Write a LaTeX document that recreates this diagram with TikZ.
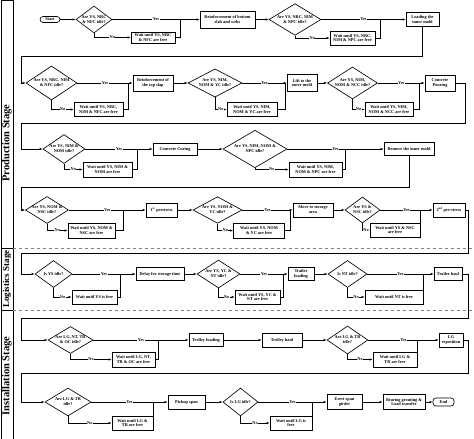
\documentclass[tikz,border=0pt]{standalone}
\usepackage{fontspec}
\setmainfont{Liberation Serif}
\usetikzlibrary{shapes.geometric,arrows.meta}
\newcommand{\tinytext}{\fontsize{4.3}{4.9}\selectfont\bfseries}
\begin{document}
\begin{tikzpicture}[x=1pt,y=-1pt,
    line/.style={draw,line width=0.55pt},
    flow/.style={line,-{Latex[length=3pt,width=2.2pt]}},
    lbl/.style={fill=white,inner sep=0.4pt,font=\tinytext},
    decision/.style={diamond,draw,line width=0.65pt,align=center,inner sep=-3pt,font=\tinytext},
    task/.style={rectangle,draw,line width=0.65pt,align=center,inner sep=0.5pt,font=\tinytext},
    terminal/.style={rectangle,rounded corners=3pt,draw,line width=0.65pt,inner sep=0.5pt,font=\tinytext},
    stage/.style={rotate=90,font=\fontsize{10.5}{11}\selectfont\bfseries}]
      \useasboundingbox (0,0) rectangle (474,439);

      % stage column
      \draw[line width=0.8pt] (1,0) rectangle (13,439);
      \draw[line width=0.8pt] (1,248) -- (13,248);
      \draw[line width=0.8pt] (1,310) -- (13,310);
      \draw[dashed,gray,line width=0.45pt] (13,248) -- (474,248);
      \draw[dashed,gray,line width=0.45pt] (13,310) -- (474,310);
      \node[stage] (s1) at (7,143) {Production Stage};
      \node[stage,font=\fontsize{9}{10}\selectfont\bfseries] (s2) at (7,279) {Logistics Stage};
      \node[stage] (s3) at (7,376) {Installation Stage};

      % production, row 1
      \node[terminal,minimum width=20pt,minimum height=6pt] (st) at (50,19.5) {Start};
      \node[decision,minimum width=36pt,minimum height=27pt] (d1) at (94,19.5) {Are YS, NRC\\\& NFC idle?};
      \node[task,minimum width=44pt,minimum height=11pt] (w1) at (153,37.5) {Wait until YS, NRC\\\& NFC are free};
      \node[task,minimum width=55pt,minimum height=17pt] (t1) at (227.5,19.5) {Reinforcement of bottom\\slab and webs};
      \node[decision,minimum width=52pt,minimum height=28pt] (d2) at (295,19.5) {Are YS, NRC, NIM\\\& NPC idle?};
      \node[task,minimum width=45pt,minimum height=14pt] (w2) at (352.5,38) {Wait until YS, NRC,\\NIM \& NPC are free};
      \node[task,minimum width=33pt,minimum height=14pt] (t2) at (422.5,19.5) {Loading the\\inner mold};
      \coordinate (j1) at (180,19.5);
      \coordinate (j2) at (380,19.5);

      % production, row 2
      \node[decision,minimum width=51pt,minimum height=34pt] (d3) at (51.5,83) {Are YS, NRC, NIM\\\& NFC idle?};
      \node[task,minimum width=49pt,minimum height=14pt] (w3) at (98.5,109.5) {Wait until YS, NRC,\\NIM \& NFC are free};
      \node[task,minimum width=40pt,minimum height=16pt] (t3) at (153,83) {Reinforcement of\\the top slap};
      \node[decision,minimum width=54pt,minimum height=28pt] (d4) at (215,83) {Are YS, NIM,\\NOM \& YC idle?};
      \node[task,minimum width=50pt,minimum height=14pt] (w4) at (252,109.5) {Wait until YS, NIM,\\NOM \& YC are free};
      \node[task,minimum width=30pt,minimum height=17pt] (t4) at (302,83) {Lift to the\\outer mold};
      \node[decision,minimum width=50pt,minimum height=32pt] (d5) at (352.5,83) {Are YS, NIM,\\NOM \& NCC idle?};
      \node[task,minimum width=48pt,minimum height=14pt] (w5) at (389,109.5) {Wait until YS, NIM,\\NOM \& NCC are free};
      \node[task,minimum width=30pt,minimum height=16pt] (t5) at (440,83) {Concrete\\Pouring};
      \coordinate (j3) at (128,83);
      \coordinate (j4) at (285,83);
      \coordinate (j5) at (419,83);
      \coordinate (e1) at (21,56);
      \coordinate (e2) at (465,123);
      \coordinate (r2) at (21,123);

      % production, row 3
      \node[decision,minimum width=42pt,minimum height=29pt] (d6) at (64,149) {Are YS, NIM \&\\NOM idle?};
      \node[task,minimum width=49pt,minimum height=15pt] (w6) at (107.5,169.5) {Wait until YS, NIM \&\\NOM are free};
      \node[task,minimum width=44pt,minimum height=12pt] (t6) at (175,149) {Concrete Curing};
      \node[decision,minimum width=64pt,minimum height=32pt] (d7) at (255,149) {Are YS, NIM, NOM \&\\NPC idle?};
      \node[task,minimum width=53pt,minimum height=15pt] (w7) at (315.5,169.5) {Wait until YS, NIM,\\NOM \& NPC are free};
      \node[task,minimum width=50pt,minimum height=13pt] (t7) at (409,149) {Remove the inner mold};
      \coordinate (j6) at (137,149);
      \coordinate (j7) at (345,149);
      \coordinate (e3) at (21,187);

      % production, row 4
      \node[decision,minimum width=43pt,minimum height=27pt] (d8) at (47,210) {Are YS, NOM \&\\NSC idle?};
      \node[task,minimum width=47pt,minimum height=15pt] (w8) at (91.5,230.5) {Wait until YS, NOM \&\\NSC are free};
      \node[task,minimum width=31pt,minimum height=14pt] (t8) at (161.5,210) {1\textsuperscript{st} prestress};
      \node[decision,minimum width=49pt,minimum height=26pt] (d9) at (217.5,210) {Are YS, NOM \&\\YC idle?};
      \node[task,minimum width=51pt,minimum height=15pt] (w9) at (259,230.5) {Wait until YS, NOM\\\& YC are free};
      \node[task,minimum width=40pt,minimum height=14pt] (t9) at (313,210) {Move to storage\\area};
      \node[decision,minimum width=35pt,minimum height=26pt] (d10) at (362.5,210) {Are YS \&\\NSC idle?};
      \node[task,minimum width=50pt,minimum height=14pt] (w10) at (395,230) {Wait until YS \& NSC\\are free};
      \node[task,minimum width=32pt,minimum height=14pt] (t10) at (449,210) {2\textsuperscript{nd} pre-stress};
      \coordinate (j8) at (123,210);
      \coordinate (j9) at (290,210);
      \coordinate (j10) at (420,210);
      \coordinate (e4) at (468,253);
      \coordinate (r4) at (21,253);

      % logistics
      \node[decision,minimum width=37pt,minimum height=27pt] (d11) at (53.5,274) {Is YS idle?};
      \node[task,minimum width=45pt,minimum height=14pt] (w11) at (94.5,297) {Wait until YS is free};
      \node[task,minimum width=48pt,minimum height=13pt] (t11) at (160,274) {Delay for storage time};
      \node[decision,minimum width=43pt,minimum height=28pt] (d12) at (218.5,274) {Are YS, YC \&\\NT idle?};
      \node[task,minimum width=45pt,minimum height=14pt] (w12) at (257.5,297) {Wait until YS, YC \&\\NT are free};
      \node[task,minimum width=26pt,minimum height=13pt] (t12) at (301,274) {Trailer\\loading};
      \node[decision,minimum width=39pt,minimum height=27pt] (d13) at (347.5,274) {Is NT idle?};
      \node[task,minimum width=58pt,minimum height=14pt] (w13) at (394,297) {Wait until NT is free};
      \node[task,minimum width=28pt,minimum height=13pt] (t13) at (448,274) {Trailer haul};
      \coordinate (j11) at (120,274);
      \coordinate (j12) at (283,274);
      \coordinate (j13) at (423,274);
      \coordinate (e5) at (468,318);
      \coordinate (r5) at (21,318);

      % installation, row 1
      \node[decision,minimum width=45pt,minimum height=27pt] (d14) at (70.5,340) {Are LG, NT, TR\\\& OC idle?};
      \node[task,minimum width=43pt,minimum height=15pt] (w14) at (133.5,359.5) {Wait until LG, NT,\\TR \& OC are free};
      \node[task,minimum width=34pt,minimum height=13pt] (t14) at (206,340) {Trolley loading};
      \node[task,minimum width=40pt,minimum height=14pt] (t15) at (282,340) {Trolley haul};
      \node[decision,minimum width=41pt,minimum height=28pt] (d15) at (347.5,340) {Are LG \& TR\\idle?};
      \node[task,minimum width=44pt,minimum height=15pt] (w15) at (395,359.5) {Wait until LG \&\\TR are free};
      \node[task,minimum width=24pt,minimum height=14pt] (t16) at (451,340) {LG\\reposition};
      \coordinate (j14) at (158,340);
      \coordinate (j15) at (417,340);
      \coordinate (e6) at (468,373);
      \coordinate (r6) at (21,373);

      % installation, row 2
      \node[decision,minimum width=46pt,minimum height=28pt] (d16) at (68,402) {Are LG \& TR\\idle?};
      \node[task,minimum width=41pt,minimum height=14pt] (w16) at (132.5,423) {Wait until LG \&\\TR are free};
      \node[task,minimum width=37pt,minimum height=14pt] (t17) at (186.5,402) {Pickup span};
      \node[decision,minimum width=35pt,minimum height=28pt] (d17) at (240.5,402) {Is LG idle?};
      \node[task,minimum width=42pt,minimum height=14pt] (w17) at (291,423) {Wait until LG is\\free};
      \node[task,minimum width=35pt,minimum height=15pt] (t18) at (344.5,402) {Erect span\\girder};
      \node[task,minimum width=42pt,minimum height=15pt] (t19) at (404,402) {Bearing grouting \&\\Load transfer};
      \node[terminal,minimum width=21pt,minimum height=8pt] (en) at (443.5,402) {End};
      \coordinate (j16) at (153,402);
      \coordinate (j17) at (312,402);

      \draw[flow] (st) -- (d1);
      \draw[flow] (d1) -- node[lbl] {Yes} (t1);
      \draw[flow] (d1.south) |- node[lbl,pos=0.75] {No} (w1.west);
      \draw[line] (w1.east) -| (j1);
      \draw[flow] (t1) -- (d2);
      \draw[flow] (d2) -- node[lbl] {Yes} (t2);
      \draw[flow] (d2.south) |- node[lbl,pos=0.75] {No} (w2.west);
      \draw[line] (w2.east) -| (j2);
      \draw[flow] (t2.south) |- (e1) |- (d3.west);

      \draw[flow] (d3) -- node[lbl] {Yes} (t3);
      \draw[flow] (d3.south) |- node[lbl,pos=0.75] {No} (w3.west);
      \draw[line] (w3.east) -| (j3);
      \draw[flow] (t3) -- (d4);
      \draw[flow] (d4) -- node[lbl] {Yes} (t4);
      \draw[flow] (d4.south) |- node[lbl,pos=0.75] {No} (w4.west);
      \draw[line] (w4.east) -| (j4);
      \draw[flow] (t4) -- (d5);
      \draw[flow] (d5) -- node[lbl] {Yes} (t5);
      \draw[flow] (d5.south) |- node[lbl,pos=0.75] {No} (w5.west);
      \draw[line] (w5.east) -| (j5);
      \draw[flow] (t5.east) -| (e2) -- (r2) |- (d6.west);

      \draw[flow] (d6) -- node[lbl] {Yes} (t6);
      \draw[flow] (d6.south) |- node[lbl,pos=0.75] {No} (w6.west);
      \draw[line] (w6.east) -| (j6);
      \draw[flow] (t6) -- (d7);
      \draw[flow] (d7) -- node[lbl] {Yes} (t7);
      \draw[flow] (d7.south) |- node[lbl,pos=0.75] {No} (w7.west);
      \draw[line] (w7.east) -| (j7);
      \draw[flow] (t7.south) |- (e3) |- (d8.west);

      \draw[flow] (d8) -- node[lbl] {Yes} (t8);
      \draw[flow] (d8.south) |- node[lbl,pos=0.75] {No} (w8.west);
      \draw[line] (w8.east) -| (j8);
      \draw[flow] (t8) -- (d9);
      \draw[flow] (d9) -- node[lbl] {Yes} (t9);
      \draw[flow] (d9.south) |- node[lbl,pos=0.75] {No} (w9.west);
      \draw[line] (w9.east) -| (j9);
      \draw[flow] (t9) -- (d10);
      \draw[flow] (d10) -- node[lbl] {Yes} (t10);
      \draw[flow] (d10.south) |- node[lbl,pos=0.75] {No} (w10.west);
      \draw[line] (w10.east) -| (j10);
      \draw[flow] (t10.east) -| (e4) -- (r4) |- (d11.west);

      \draw[flow] (d11) -- node[lbl] {Yes} (t11);
      \draw[flow] (d11.south) |- node[lbl,pos=0.75] {No} (w11.west);
      \draw[line] (w11.east) -| (j11);
      \draw[flow] (t11) -- (d12);
      \draw[flow] (d12) -- node[lbl] {Yes} (t12);
      \draw[flow] (d12.south) |- node[lbl,pos=0.75] {No} (w12.west);
      \draw[line] (w12.east) -| (j12);
      \draw[flow] (t12) -- (d13);
      \draw[flow] (d13) -- node[lbl] {Yes} (t13);
      \draw[flow] (d13.south) |- node[lbl,pos=0.75] {No} (w13.west);
      \draw[line] (w13.east) -| (j13);
      \draw[flow] (t13.east) -| (e5) -- (r5) |- (d14.west);

      \draw[flow] (d14) -- node[lbl] {Yes} (t14);
      \draw[flow] (d14.south) |- node[lbl,pos=0.75] {No} (w14.west);
      \draw[line] (w14.east) -| (j14);
      \draw[flow] (t14) -- (t15);
      \draw[flow] (t15) -- (d15);
      \draw[flow] (d15) -- node[lbl] {Yes} (t16);
      \draw[flow] (d15.south) |- node[lbl,pos=0.75] {No} (w15.west);
      \draw[line] (w15.east) -| (j15);
      \draw[flow] (t16.east) -| (e6) -- (r6) |- (d16.west);

      \draw[flow] (d16) -- node[lbl] {Yes} (t17);
      \draw[flow] (d16.south) |- node[lbl,pos=0.75] {No} (w16.west);
      \draw[line] (w16.east) -| (j16);
      \draw[flow] (t17) -- (d17);
      \draw[flow] (d17) -- node[lbl] {Yes} (t18);
      \draw[flow] (d17.south) |- node[lbl,pos=0.75] {No} (w17.west);
      \draw[line] (w17.east) -| (j17);
      \draw[flow] (t18) -- (t19);
      \draw[flow] (t19) -- (en);
    \end{tikzpicture}
\end{document}
